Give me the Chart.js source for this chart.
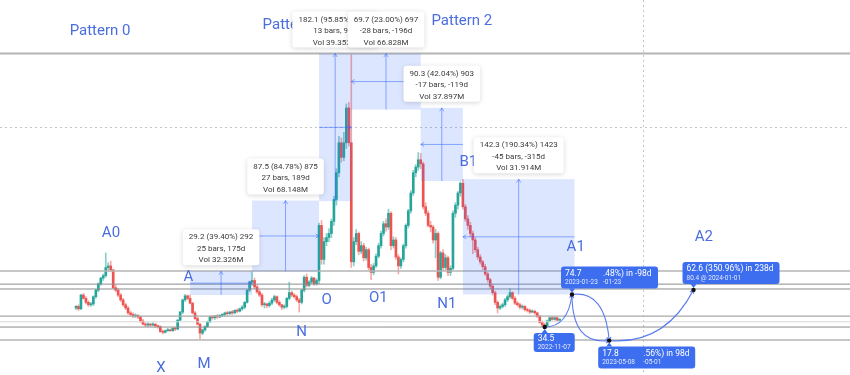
<!DOCTYPE html>
<html>
<head>
<meta charset="utf-8">
<script src="https://cdn.jsdelivr.net/npm/chart.js@4.4.1/dist/chart.umd.min.js"></script>
<style>
  html, body { margin: 0; padding: 0; background: #fff; }
  #wrap { width: 850px; height: 375px; }
</style>
</head>
<body>
<div id="wrap"><canvas id="chart" width="850" height="375"></canvas></div>
<script>
"use strict";

// weekly candles, bar 0 is the first week on the left
const opens = [
  58, 60, 57, 74, 70, 65, 62, 63, 72, 80,
  88, 95, 98, 108, 110, 105, 83, 80, 74, 68,
  62, 58, 52, 50, 48, 49, 47, 42, 38, 37,
  38, 37, 38, 36, 35, 29, 28, 30, 31, 30,
  33, 32, 43, 53, 68, 73, 70, 64, 52, 45,
  38, 27, 31, 35, 41, 47, 46, 48, 47, 49,
  50, 52, 51, 53, 52, 55, 54, 57, 59, 65,
  80, 90, 92, 84, 78, 74, 62, 63, 61, 64,
  68, 72, 65, 62, 59, 60, 70, 77, 74, 72,
  68, 65, 80, 96, 86, 90, 95, 88, 92, 160,
  118, 140, 145, 150, 165, 192, 225, 262, 244, 262,
  305, 262, 115, 140, 150, 128, 135, 120, 130, 108,
  102, 110, 122, 135, 150, 162, 158, 175, 135, 142,
  121, 110, 118, 135, 160, 178, 200, 225, 232, 241,
  236, 183, 175, 160, 158, 142, 150, 96, 126, 108,
  120, 102, 107, 175, 185, 200, 212, 183, 168, 160,
  150, 142, 130, 121, 115, 109, 100, 93, 85, 77,
  65, 58, 60, 62, 68, 72, 77, 70, 64, 62,
  59, 60, 56, 55, 53, 54, 52, 48, 40, 37,
  36, 42, 46, 44, 46, 43
];
const highs = [
  61, 62, 75, 76, 72, 67, 65, 73, 81, 89,
  96, 100, 126, 114, 116, 106, 86, 82, 76, 70,
  64, 60, 54, 52, 51, 50, 48, 44, 40, 40,
  39, 40, 39, 37, 36, 31, 31, 33, 32, 34,
  34, 44, 54, 69, 75, 74, 74.1, 65, 54, 47,
  39, 32, 36, 42, 48, 49, 49, 50, 50, 51,
  53, 54, 54, 55, 56, 57, 58, 61, 66, 81,
  91, 103.2, 95, 86, 80, 76, 65, 64, 66, 70,
  74, 73, 67, 63, 62, 71, 90, 79, 76, 74,
  70, 81, 98, 100, 92, 97, 96, 94, 163, 166,
  145, 150, 156, 168, 196, 230, 270, 268, 275, 310,
  312, 372, 145, 155, 152, 140, 138, 133, 132, 112,
  113, 125, 138, 153, 165, 168, 180, 177, 146, 145,
  124, 120, 137, 162, 180, 203, 228, 235, 250, 249,
  238, 188, 178, 165, 160, 155, 152, 128, 130, 124,
  122, 110, 178, 188, 202, 214, 217, 186, 172, 164,
  153, 145, 133, 124, 117, 112, 102, 95, 87, 79,
  67, 62, 64, 70, 74, 82, 78, 72, 66, 64,
  62, 61, 58, 57, 56, 55, 53, 49, 42, 39,
  43, 47, 48, 47, 47, 45
];
const lows = [
  56, 55, 56, 69, 63, 60, 60, 61, 70, 78,
  86, 92, 96, 104, 103, 82, 78, 72, 66, 60,
  56, 50, 48, 46, 46, 45, 40, 37, 35, 35,
  35, 36, 34, 33, 28, 26, 27, 29, 29, 29,
  30, 31, 42, 51, 66, 68, 63, 51, 44, 37,
  20, 25, 29, 34, 40, 44, 44, 45, 46, 47,
  48, 49, 50, 50, 51, 52, 53, 55, 57, 64,
  78, 86, 82, 76, 72, 60, 58, 58, 59, 62,
  66, 63, 60, 56, 57, 58, 68, 72, 70, 66,
  53, 63, 78, 84, 84, 88, 86, 86, 88, 112,
  112, 135, 140, 145, 160, 185, 220, 238, 240, 255,
  258, 108, 110, 136, 124, 125, 116, 117, 105, 93,
  99, 108, 120, 132, 147, 153, 155, 130, 132, 118,
  100, 107, 115, 132, 157, 175, 197, 220, 228, 230,
  180, 172, 158, 152, 138, 120, 92, 94, 104, 105,
  98, 98, 105, 170, 180, 196, 180, 165, 155, 146,
  125, 127, 118, 112, 105, 98, 90, 82, 74, 62,
  52, 56, 58, 60, 66, 70, 68, 62, 60, 57,
  57, 54, 53, 51, 52, 50, 46, 39, 35, 34.5,
  35, 41, 43, 43, 42, 41
];
const closes = [
  60, 57, 74, 70, 65, 62, 63, 72, 80, 88,
  95, 98, 108, 110, 105, 83, 80, 74, 68, 62,
  58, 52, 50, 48, 49, 47, 42, 38, 37, 38,
  37, 38, 36, 35, 29, 28, 30, 31, 30, 33,
  32, 43, 53, 68, 73, 70, 64, 52, 45, 38,
  27, 31, 35, 41, 47, 46, 48, 47, 49, 50,
  52, 51, 53, 52, 55, 54, 57, 59, 65, 80,
  90, 92, 84, 78, 74, 62, 63, 61, 64, 68,
  72, 65, 62, 59, 60, 70, 77, 74, 72, 68,
  65, 80, 96, 86, 90, 95, 88, 92, 160, 118,
  140, 145, 150, 165, 192, 225, 262, 244, 262, 305,
  262, 115, 140, 150, 128, 135, 120, 130, 108, 102,
  110, 122, 135, 150, 162, 158, 175, 135, 142, 121,
  110, 118, 135, 160, 178, 200, 225, 232, 241, 236,
  183, 175, 160, 158, 142, 150, 96, 126, 108, 120,
  102, 107, 175, 185, 200, 212, 183, 168, 160, 150,
  142, 130, 121, 115, 109, 100, 93, 85, 77, 65,
  58, 60, 62, 68, 72, 77, 70, 64, 62, 59,
  60, 56, 55, 53, 54, 52, 48, 40, 37, 36,
  42, 46, 44, 46, 43, 44
];

// horizontal levels
const levelPrices = [372.1, 103.7, 87.5, 81.5, 48, 41, 34.5, 18.5];

// price ranges: bar from -> bar to, price low -> price high
const rangeFrom = [46, 71, 98, 139, 156, 201];
const rangeTo = [71, 98, 111, 111, 139, 156];
const rangeLow = [74.1, 103.2, 190.0, 303.0, 214.8, 74.76];
const rangeHigh = [103.3, 190.7, 372.1, 372.1, 305.1, 217.06];
const rangeInfo = [
  ["29.2 (39.40%) 292", "25 bars, 175d", "Vol 32.326M"],
  ["87.5 (84.78%) 875", "27 bars, 189d", "Vol 68.148M"],
  ["182.1 (95.85%) 1821", "13 bars, 91d", "Vol 39.352M"],
  ["69.7 (23.00%) 697", "-28 bars, -196d", "Vol 66.828M"],
  ["90.3 (42.04%) 903", "-17 bars, -119d", "Vol 37.897M"],
  ["142.3 (190.34%) 1423", "-45 bars, -315d", "Vol 31.914M"]
];

// pattern labels
const tagText = ["Pattern 0", "Pattern 1", "Pattern 2", "A0", "A", "X", "M", "N", "O", "O1", "N1", "B1", "A1", "A2"];
const tagBar = [9.7, 87.5, 155.6, 14.1, 45.3, 34.3, 51.6, 91, 101.1, 121.9, 149.5, 158.2, 201.5, 253.2];
const tagPrice = [400, 407, 412, 150.6, 95.9, -16, -11, 27.5, 67.9, 70, 62.6, 237.9, 133, 145.3];

// projection points
const projBar = [189, 200, 215, 249];
const projPrice = [34.5, 74.7, 17.8, 80.4];
const projDate = ["2022-11-07", "2023-01-23", "2023-05-08", "2024-01-01"];

// projection curves (point index from -> to, control point in bars/price)
const curveFrom = [0, 1, 1, 2];
const curveTo = [1, 2, 2, 3];
const curveCtrlBar = [198.4, 213.3, 200, 237.5];
const curveCtrlPrice = [34.6, 80.2, 12.3, 12.3];

// crosshair
const CROSS_BAR = 228.6;
const CROSS_PRICE = 281.5;

const UP = "#26a69a";
const DOWN = "#ef5350";
const BLUE_TEXT = "#4a6ee0";
const RANGE_FILL = "rgba(41, 98, 255, 0.16)";
const RANGE_LINE = "rgba(41, 98, 255, 0.5)";
const CALLOUT = "#3d6ef0";
const FONT = "Roboto, 'Noto Sans', sans-serif";

const levelColors = ["#b4b4b4", "#b4b4b4", "#8c8c8c", "#8c8c8c", "#a8a8a8", "#d8d8d8", "#8c8c8c", "#b4b4b4"];
const levelWidths = [2, 1.5, 1, 1, 1.2, 1, 1, 1.5];


function isUp(i) {
    return closes[i] >= opens[i];
}

function arrowHead(ctx, x, y, ang, s) {
    ctx.beginPath();
    ctx.moveTo(x - s * Math.cos(ang - 0.55), y - s * Math.sin(ang - 0.55));
    ctx.lineTo(x, y);
    ctx.lineTo(x - s * Math.cos(ang + 0.55), y - s * Math.sin(ang + 0.55));
    ctx.stroke();
}

function line(ctx, x1, y1, x2, y2) {
    ctx.beginPath();
    ctx.moveTo(x1, y1);
    ctx.lineTo(x2, y2);
    ctx.stroke();
}

// white box with the stats of a price range, sitting above the range
function infoBox(ctx, cx, bottom, lines) {
    ctx.font = "8px " + FONT;
    let w = 0;
    lines.forEach(t => { w = Math.max(w, ctx.measureText(t).width); });
    w += 12;
    const h = 36;
    const left = cx - w / 2;
    const top = bottom - h;
    ctx.save();
    ctx.shadowColor = "rgba(0, 0, 0, 0.16)";
    ctx.shadowBlur = 5;
    ctx.shadowOffsetY = 1;
    ctx.fillStyle = "#fff";
    ctx.beginPath();
    ctx.roundRect(left, top, w, h, 3);
    ctx.fill();
    ctx.restore();
    ctx.fillStyle = "#3a3a3a";
    ctx.textAlign = "center";
    ctx.textBaseline = "middle";
    lines.forEach((t, k) => ctx.fillText(t, cx, top + 8 + k * 11.5));
}

// blue label next to a projection point
function callout(ctx, px, py, above, w, h, mainText, subText) {
    const left = px - 11;
    const top = above ? py - 6 - h : py + 6;
    ctx.fillStyle = CALLOUT;
    ctx.beginPath();
    ctx.roundRect(left, top, w, h, 3);
    ctx.fill();
    ctx.beginPath();
    if (above) {
        ctx.moveTo(px - 3, top + h);
        ctx.lineTo(px + 3, top + h);
        ctx.lineTo(px, top + h + 4);
    } else {
        ctx.moveTo(px - 3, top);
        ctx.lineTo(px + 3, top);
        ctx.lineTo(px, top - 4);
    }
    ctx.fill();
    ctx.textAlign = "left";
    ctx.textBaseline = "middle";
    ctx.fillStyle = "#fff";
    ctx.font = "8.5px " + FONT;
    ctx.fillText(mainText, left + 4, top + h * 0.33);
    ctx.fillStyle = "rgba(255, 255, 255, 0.85)";
    ctx.font = "6.5px " + FONT;
    ctx.fillText(subText, left + 4, top + h * 0.74);
    return { left: left, top: top, h: h };
}


const drawings = {
    id: "drawings",

    beforeDatasetsDraw(chart) {
        const ctx = chart.ctx;
        const xs = chart.scales.x, ys = chart.scales.y;
        const area = chart.chartArea;
        ctx.save();
        ctx.strokeStyle = "#c4c4c4";
        ctx.lineWidth = 1;
        ctx.setLineDash([2, 3]);
        const cy = Math.round(ys.getPixelForValue(CROSS_PRICE)) + 0.5;
        const cx = Math.round(xs.getPixelForValue(CROSS_BAR)) + 0.5;
        line(ctx, area.left, cy, area.right, cy);
        line(ctx, cx, area.top, cx, area.bottom);
        ctx.restore();
    },

    afterDatasetsDraw(chart) {
        const ctx = chart.ctx;
        const xs = chart.scales.x, ys = chart.scales.y;
        const area = chart.chartArea;
        ctx.save();

        // levels
        levelPrices.forEach((p, k) => {
            const y = ys.getPixelForValue(p);
            ctx.strokeStyle = levelColors[k];
            ctx.lineWidth = levelWidths[k];
            line(ctx, area.left, y, area.right, y);
        });

        // price ranges
        for (let k = 0; k < rangeFrom.length; k++) {
            const x1 = xs.getPixelForValue(rangeFrom[k]);
            const x2 = xs.getPixelForValue(rangeTo[k]);
            const yLo = ys.getPixelForValue(rangeLow[k]);
            const yHi = ys.getPixelForValue(rangeHigh[k]);
            ctx.fillStyle = RANGE_FILL;
            ctx.fillRect(Math.min(x1, x2), yHi, Math.abs(x2 - x1), yLo - yHi);
            const xm = (x1 + x2) / 2, ym = (yLo + yHi) / 2;
            ctx.strokeStyle = RANGE_LINE;
            ctx.lineWidth = 1;
            line(ctx, xm, yLo, xm, yHi);
            arrowHead(ctx, xm, yHi, -Math.PI / 2, 4);
            line(ctx, x1, ym, x2, ym);
            arrowHead(ctx, x2, ym, x2 > x1 ? 0 : Math.PI, 4);
        }

        // pattern labels
        ctx.fillStyle = BLUE_TEXT;
        ctx.font = "15px " + FONT;
        ctx.textAlign = "center";
        ctx.textBaseline = "middle";
        tagText.forEach((t, k) => {
            ctx.fillText(t, xs.getPixelForValue(tagBar[k]), ys.getPixelForValue(tagPrice[k]));
        });

        // range stats
        for (let k = 0; k < rangeFrom.length; k++) {
            const cx = (xs.getPixelForValue(rangeFrom[k]) + xs.getPixelForValue(rangeTo[k])) / 2;
            infoBox(ctx, cx, ys.getPixelForValue(rangeHigh[k]) - 6, rangeInfo[k]);
        }

        // projection curves
        const px = projBar.map(b => xs.getPixelForValue(b));
        const py = projPrice.map(p => ys.getPixelForValue(p));
        ctx.strokeStyle = "#5b7cf0";
        ctx.lineWidth = 1.1;
        for (let k = 0; k < curveFrom.length; k++) {
            const a = curveFrom[k], b = curveTo[k];
            const qx = xs.getPixelForValue(curveCtrlBar[k]);
            const qy = ys.getPixelForValue(curveCtrlPrice[k]);
            ctx.beginPath();
            ctx.moveTo(px[a], py[a]);
            ctx.quadraticCurveTo(qx, qy, px[b], py[b]);
            ctx.stroke();
            arrowHead(ctx, px[b], py[b], Math.atan2(py[b] - qy, px[b] - qx), 4);
        }

        // callouts
        callout(ctx, px[0], py[0], false, 41, 19, projPrice[0].toFixed(1), projDate[0]);
        const c1 = callout(ctx, px[1], py[1], true, 97, 22, projPrice[1].toFixed(1), projDate[1]);
        const c2 = callout(ctx, px[2], py[2], false, 97, 22, projPrice[2].toFixed(1), projDate[2]);
        callout(ctx, px[3], py[3], true, 97, 22, "62.6 (350.96%) in 238d",
            projPrice[3].toFixed(1) + " @ " + projDate[3]);

        ctx.textAlign = "left";
        ctx.fillStyle = "#fff";
        ctx.font = "8.5px " + FONT;
        ctx.fillText(".48%) in -98d", c1.left + 42, c1.top + c1.h * 0.33);
        ctx.fillText(".56%) in 98d", c2.left + 45, c2.top + c2.h * 0.33);
        ctx.fillStyle = "rgba(255, 255, 255, 0.85)";
        ctx.font = "6.5px " + FONT;
        ctx.fillText("-01-23", c1.left + 42, c1.top + c1.h * 0.74);
        ctx.fillText("-05-01", c2.left + 45, c2.top + c2.h * 0.74);

        // anchor dots
        ctx.fillStyle = "#111";
        px.forEach((x, k) => {
            ctx.beginPath();
            ctx.arc(x, py[k], 2.2, 0, Math.PI * 2);
            ctx.fill();
        });

        ctx.restore();
    }
};


const bodyData = opens.map((o, i) => ({ x: i, y: [o, closes[i]] }));
const wickData = opens.map((o, i) => ({ x: i, y: [lows[i], highs[i]] }));

function bodyColor(c) {
    if (c.dataIndex === undefined) return UP;
    return isUp(c.dataIndex) ? UP : DOWN;
}

function wickColor(c) {
    if (c.dataIndex === undefined) return UP;
    return isUp(c.dataIndex) ? "rgba(38, 166, 154, 0.55)" : "rgba(239, 83, 80, 0.5)";
}

let ctx = document.getElementById("chart").getContext("2d");

let candleChart = new Chart(ctx, {
    type: "bar",
    data: {
        datasets: [
            {
                label: "wicks",
                data: wickData,
                backgroundColor: wickColor,
                barThickness: 1,
                grouped: false,
                order: 2
            },
            {
                label: "bodies",
                data: bodyData,
                backgroundColor: bodyColor,
                barThickness: 2,
                minBarLength: 1,
                grouped: false,
                order: 1
            }
        ]
    },
    options: {
        responsive: false,
        animation: false,
        events: [],
        layout: { padding: 0 },
        plugins: {
            legend: { display: false },
            tooltip: { enabled: false }
        },
        scales: {
            x: {
                type: "linear",
                min: -76 / 2.48,
                max: (850 - 76) / 2.48,
                offset: false,
                display: false,
                grid: { offset: false }
            },
            y: {
                type: "linear",
                min: -20 / 0.81,
                max: 355 / 0.81,
                display: false
            }
        }
    },
    plugins: [drawings]
});
</script>
</body>
</html>
